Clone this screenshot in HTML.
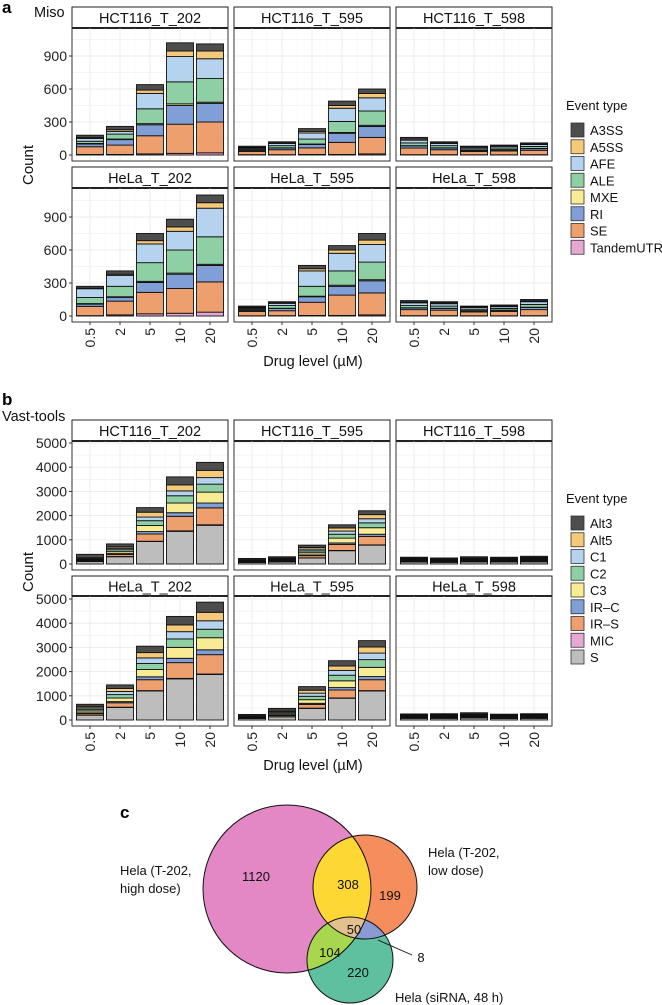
<!DOCTYPE html>
<html><head><meta charset="utf-8"><style>
body{margin:0;background:#fff}
svg{display:block;font-family:"Liberation Sans",sans-serif}
</style></head><body>
<svg id="fig" width="662" height="1005" viewBox="0 0 662 1005" xmlns="http://www.w3.org/2000/svg">
<g id="root"></g>
</svg>
<script>
const NS="http://www.w3.org/2000/svg";
const doses=["0.5","2","5","10","20"];
const facetNames=["HCT116_T_202","HCT116_T_595","HCT116_T_598","HeLa_T_202","HeLa_T_595","HeLa_T_598"];
// Miso stack order bottom->top: TandemUTR, SE, RI, MXE, ALE, AFE, A5SS, A3SS
const misoTypes=["TandemUTR","SE","RI","MXE","ALE","AFE","A5SS","A3SS"];
const misoColors=["#e6a8d2","#eda06e","#7f9fd6","#f7ec94","#8fcfa4","#b5d3ee","#f5c97a","#4d4d4d"];
const misoHCT202=[[5,70,25,5,20,25,10,20],[5,85,50,5,45,25,15,30],[10,165,100,10,135,140,30,50],[15,265,170,15,200,230,50,75],[20,280,170,10,215,180,70,65]];
const misoHCT595=[[3,30,10,2,10,10,5,10],[3,45,15,2,20,20,5,10],[5,60,30,5,45,55,15,25],[5,110,80,10,100,120,25,40],[10,150,100,10,130,120,40,40]];
const misoHCT598=[[3,60,20,2,25,25,10,15],[3,45,15,2,20,20,5,10],[2,30,10,2,13,13,5,5],[2,35,10,2,15,15,5,6],[3,40,15,2,18,17,5,10]];
const misoHeLa202=[[3,85,20,5,55,80,5,17],[10,125,35,5,95,100,10,30],[20,195,90,10,170,170,30,65],[25,225,130,10,210,170,40,70],[35,275,150,10,250,260,50,70]];
const misoHeLa595=[[2,40,10,2,10,10,6,10],[3,45,20,2,25,20,5,10],[5,120,50,5,90,140,20,30],[5,185,80,10,130,160,30,40],[10,200,110,10,160,160,40,60]];
const misoHeLa598=[[3,55,15,2,20,25,8,12],[3,50,15,2,20,22,8,10],[2,35,10,2,13,15,5,8],[2,40,10,2,15,16,6,9],[3,55,20,2,25,25,8,12]];
const misoTicks=[0,300,600,900];
// Vast stack order bottom->top: S, MIC, IR-S, IR-C, C3, C2, C1, Alt5, Alt3
const vastTypes=["S","MIC","IR\u2013S","IR\u2013C","C3","C2","C1","Alt5","Alt3"];
const vastColors=["#bdbdbd","#e6a8d2","#eda06e","#7f9fd6","#f7ec94","#8fcfa4","#b5d3ee","#f5c97a","#4d4d4d"];
const vastHCT202=[[100,5,20,10,20,30,30,40,145],[300,10,80,40,80,80,60,60,120],[930,10,300,100,250,200,150,200,190],[1350,20,600,150,400,300,200,250,330],[1600,20,700,200,450,330,270,300,330]];
const vastHCT595=[[60,5,20,10,20,25,20,20,50],[80,5,30,10,30,35,30,30,50],[250,5,90,30,90,80,70,70,95],[550,10,250,60,200,160,130,130,130],[780,10,350,90,270,200,170,170,160]];
const vastHCT598=[[80,5,25,10,30,30,30,30,40],[70,5,20,10,25,30,25,25,40],[85,5,25,10,30,35,30,30,50],[80,5,25,10,30,30,30,30,40],[90,5,30,10,35,35,35,35,45]];
const vastHeLa202=[[200,5,60,30,80,70,60,60,85],[520,10,180,50,150,140,130,120,150],[1200,15,450,120,300,250,230,220,265],[1700,20,650,180,450,350,300,280,350],[1880,20,800,200,500,350,350,350,420]];
const vastHeLa595=[[60,5,20,10,20,25,20,20,50],[130,5,50,20,50,50,50,50,75],[480,10,150,50,150,140,130,120,150],[900,10,330,100,280,230,200,180,220],[1200,15,450,130,380,320,270,250,265]];
const vastHeLa598=[[70,5,25,10,30,30,25,25,30],[70,5,25,10,30,30,25,25,40],[85,5,25,10,30,35,30,30,50],[65,5,20,10,25,30,25,25,35],[70,5,25,10,30,30,30,25,35]];
const vastTicks=[0,1000,2000,3000,4000,5000];
// Venn counts
const vennLabels=["1120","308","199","50","104","220","8"];

const root=document.getElementById('root');
function mk(tag,attrs,parent){const e=document.createElementNS(NS,tag);for(const k in attrs)e.setAttribute(k,attrs[k]);(parent||root).appendChild(e);return e;}
function txt(s,attrs,parent){const e=mk('text',attrs,parent);e.textContent=s;return e;}

const colX=[72,234,396], colW=156;
function panelSet(cfg){
  const g=mk('g',{});
  
  
  cfg.data.forEach((facet,fi)=>{
    const row=Math.floor(fi/3), col=fi%3;
    const R=cfg.rows[row], x0=colX[col];
    const yScale=v=>R.zero - v*cfg.scale;
    const fg=mk('g',{},g);
    
    
    const st=mk('rect',{x:x0,y:R.stripTop,width:colW,height:R.plotTop-R.stripTop,fill:'#fff',stroke:'#222','stroke-width':1},fg);
    
    
    mk('line',{x1:x0,x2:x0+colW,y1:R.plotTop,y2:R.plotTop,stroke:'#111','stroke-width':2},fg);
    const lb=txt(facetNames[fi],{x:x0+colW/2,y:R.stripTop+(R.plotTop-R.stripTop)/2+5.5,'text-anchor':'middle','font-size':14.5,fill:'#111'},fg);
    
    
    const ticks=cfg.ticks, step=ticks[1]-ticks[0];
    for(let t=0;t<=ticks[ticks.length-1]+step;t+=step/2){
      const yy=yScale(t); if(yy<R.plotTop+1) continue;
      mk('line',{x1:x0,x2:x0+colW,y1:yy,y2:yy,stroke:'#ebebeb','stroke-width':t%step===0?0.9:0.5},fg);
    }
    for(let i=0;i<5;i++){
      const cx=x0+18+30*i;
      mk('line',{x1:cx,x2:cx,y1:R.plotTop,y2:R.plotBot,stroke:'#ebebeb','stroke-width':0.9},fg);
      if(i<4) mk('line',{x1:cx+15,x2:cx+15,y1:R.plotTop,y2:R.plotBot,stroke:'#f2f2f2','stroke-width':0.5},fg);
    }
    facet.forEach((bar,bi)=>{
      const cx=x0+18+30*bi; let cum=0;
      bar.forEach((v,si)=>{
        const y1=yScale(cum), y2=yScale(cum+v); cum+=v;
        const r=mk('rect',{x:cx-13.5,y:y2,width:27,height:Math.max(0,y1-y2),fill:cfg.colors[si],stroke:'#111','stroke-width':0.9},fg);
        
        
      });
    });
    mk('rect',{x:x0,y:R.plotTop,width:colW,height:R.plotBot-R.plotTop,fill:'none',stroke:'#333','stroke-width':1},fg);
    if(col===0){
      ticks.forEach(t=>{
        const yy=yScale(t);
        mk('line',{x1:x0-3,x2:x0,y1:yy,y2:yy,stroke:'#333','stroke-width':1},fg);
        const tl=txt(String(t),{x:x0-5,y:yy+5,'text-anchor':'end','font-size':14,fill:'#222'},fg);
        
        
      });
    }
    if(row===1){
      doses.forEach((d,i)=>{
        const cx=x0+18+30*i;
        mk('line',{x1:cx,x2:cx,y1:R.plotBot,y2:R.plotBot+3,stroke:'#333','stroke-width':1},fg);
        const tl=txt(d,{x:0,y:0,transform:`translate(${cx+5},${R.plotBot+6}) rotate(-90)`,'text-anchor':'end','font-size':14,fill:'#222'},fg);
        
        
      });
    }
  });
  const xt=txt('Drug level (\u00b5M)',{x:313,y:cfg.xTitleY,'text-anchor':'middle','font-size':14.5,fill:'#111'},g);
  
  
  const yt=txt('Count',{x:0,y:0,transform:`translate(${33},${cfg.yTitleY}) rotate(-90)`,'text-anchor':'middle','font-size':15,fill:'#111'},g);
  
  
  const lg=mk('g',{},g);
  
  
  txt('Event type',{x:566,y:cfg.legY,'font-size':13,fill:'#111'},lg);
  const types=cfg.types.slice().reverse(), cols=cfg.colors.slice().reverse();
  types.forEach((t,i)=>{
    const cy=cfg.legY+20+i*16.75;
    const e=mk('g',{},lg);
    
    
    mk('rect',{x:571,y:cy-7,width:13,height:14,fill:cols[i],stroke:'#333','stroke-width':0.8},e);
    txt(t,{x:590,y:cy+5,'font-size':13,fill:'#111'},e);
  });
}
panelSet({name:'panel-a-miso',data:[misoHCT202,misoHCT595,misoHCT598,misoHeLa202,misoHeLa595,misoHeLa598],
  colors:misoColors,types:misoTypes,ticks:misoTicks,scale:0.11,
  rows:[{stripTop:7,plotTop:28,plotBot:161,zero:155},{stripTop:167,plotTop:188,plotBot:322,zero:316}],
  xTitleY:366,yTitleY:165,legY:110});
panelSet({name:'panel-b-vast-tools',data:[vastHCT202,vastHCT595,vastHCT598,vastHeLa202,vastHeLa595,vastHeLa598],
  colors:vastColors,types:vastTypes,ticks:vastTicks,scale:0.0242,
  rows:[{stripTop:420,plotTop:441,plotBot:570,zero:564},{stripTop:576,plotTop:596,plotBot:726,zero:720}],
  xTitleY:770,yTitleY:572,legY:503});
[['a',2,13],['b',2,405],['c',120,818]].forEach(([s,x,y])=>{
  const t=txt(s,{x:x,y:y,'font-size':17,'font-weight':'bold',fill:'#000'});
  
  
});
const m1=txt('Miso',{x:34,y:17,'font-size':14.5,fill:'#111'});


const m2=txt('Vast-tools',{x:2,y:421,'font-size':14.5,fill:'#111'});



const A={cx:287,cy:889,r:84}, B={cx:365,cy:887,r:52}, C={cx:350,cy:960,r:43};
const vg=mk('g',{});


const defs=mk('defs',{},vg);
[['cA',A],['cB',B],['cC',C]].forEach(([id,c])=>{const cp=mk('clipPath',{id:id},defs);mk('circle',{cx:c.cx,cy:c.cy,r:c.r},cp);});
function circ(c,fill,clip,name){const e=mk('circle',{cx:c.cx,cy:c.cy,r:c.r,fill:fill},clip?mk('g',{'clip-path':`url(#${clip})`},vg):vg);return e;}
circ(A,'#e388c4',null,'venn-high-dose');
circ(B,'#f58d5c',null,'venn-low-dose');
circ(C,'#5fc0a0',null,'venn-sirna');
circ(B,'#fdd835','cA','venn-high-low');
circ(C,'#a8d64e','cA','venn-high-sirna');
circ(C,'#8a9bd4','cB','venn-low-sirna');
const g3=mk('g',{'clip-path':'url(#cA)'},vg);const g3b=mk('g',{'clip-path':'url(#cB)'},g3);
const t3=mk('circle',{cx:C.cx,cy:C.cy,r:C.r,fill:'#e2c18e'},g3b);


[A,B,C].forEach(c=>mk('circle',{cx:c.cx,cy:c.cy,r:c.r,fill:'none',stroke:'#111','stroke-width':1},vg));
const vpos=[[256,881],[348,889],[390,900],[354,934],[330,957],[358,977],[421,962]];
vennLabels.forEach((s,i)=>{
  const t=txt(s,{x:vpos[i][0],y:vpos[i][1],'text-anchor':'middle','font-size':13,fill:'#111'},vg);
  
  
});
mk('line',{x1:378,y1:940,x2:412,y2:955,stroke:'#111','stroke-width':0.9},vg);
[['Hela (T-202,',120,875],['high dose)',120,893],['Hela (T-202,',428,857],['low dose)',428,875],['Hela (siRNA, 48 h)',395,1002]].forEach(([s,x,y])=>{
  const t=txt(s,{x:x,y:y,'font-size':13,fill:'#111'},vg);
  
  
});
</script>
</body></html>
